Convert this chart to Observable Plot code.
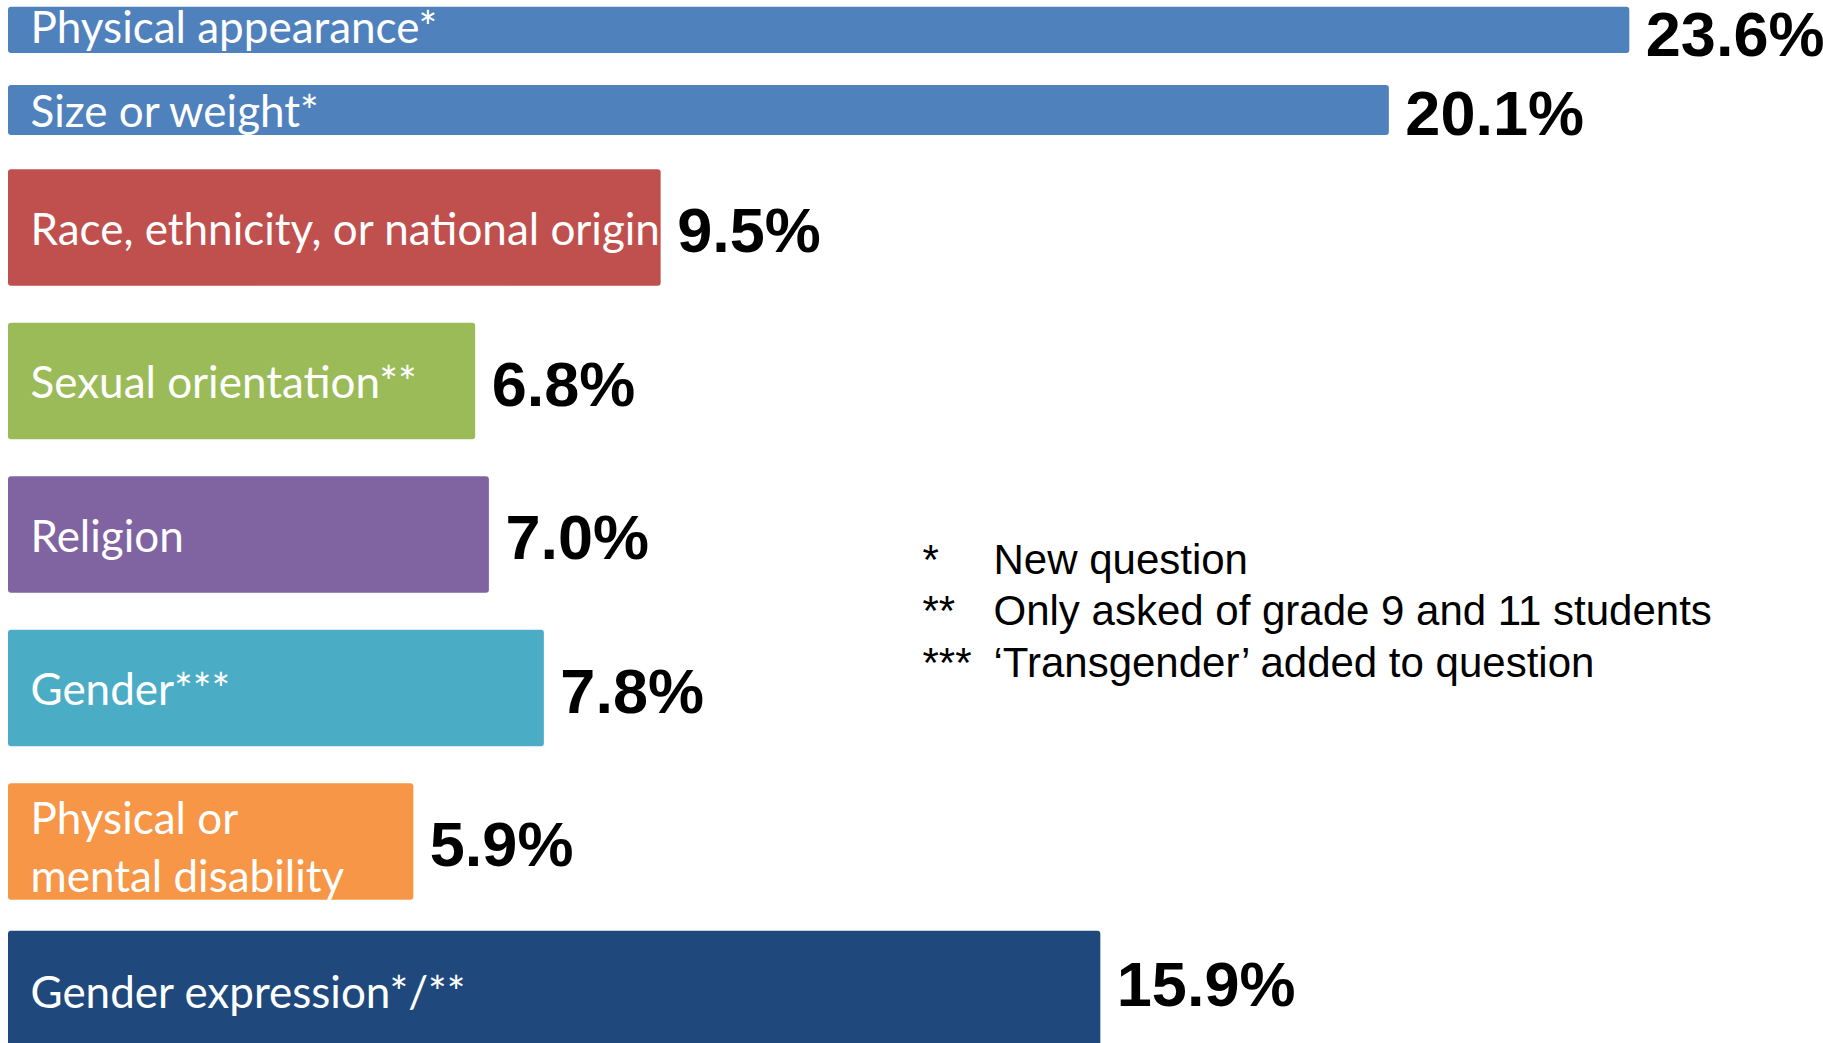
<!DOCTYPE html>
<html>
<head>
<meta charset="utf-8">
<script src="https://cdn.jsdelivr.net/npm/d3@7"></script>
<script src="https://cdn.jsdelivr.net/npm/@observablehq/plot@0.6"></script>
<style>
  html, body { margin: 0; padding: 0; background: #ffffff; overflow: hidden; }
  #chart svg { display: block; }
</style>
</head>
<body>
<div id="chart"></div>
<script>
// ---- data ----
const categories = [
  "Physical appearance*",
  "Size or weight*",
  "Race, ethnicity, or national origin",
  "Sexual orientation**",
  "Religion",
  "Gender***",
  "Physical or\nmental disability",
  "Gender expression*/**"
];
const values = [23.6, 20.1, 9.5, 6.8, 7.0, 7.8, 5.9, 15.9];
// the first two categories share one row of the slide
const rows = [
  "Appearance / weight",
  "Appearance / weight",
  "Race",
  "Sexual orientation",
  "Religion",
  "Gender",
  "Disability",
  "Gender expression"
];
const palette = ["#4F81BD", "#4F81BD", "#C0504D", "#9BBB59", "#8064A2", "#4BACC6", "#F79646", "#1F497D"];
const footMarks = ["*", "**", "***"];
const footNotes = ["New question", "Only asked of grade 9 and 11 students", "\u2018Transgender\u2019 added to question"];

// ---- table ----
const table = categories.map((c, i) => ({category: c, value: values[i], row: rows[i]}));
const rowDomain = Array.from(new Set(rows));

const labelFont = "Lato, 'Open Sans', sans-serif";
const valueFont = "'Liberation Sans', Arial, Helvetica, sans-serif";

function labelMark(data, dy) {
  return Plot.text(data, {
    x: () => 0, y: "row", text: "category", textAnchor: "start", lineAnchor: "middle",
    dx: 22, dy, fill: "white", fontSize: 44, fontFamily: labelFont, lineHeight: 1.32
  });
}

function barGroup(data, insetTop, insetBottom, labelDy, valueDy) {
  const single = data.filter(d => !d.category.includes("\n"));
  const multi = data.filter(d => d.category.includes("\n"));
  return [
    Plot.barX(data, {x: "value", y: "row", fill: "category", insetTop, insetBottom, rx: 3}),
    labelMark(single, labelDy),
    labelMark(multi, labelDy + 4.6),
    Plot.text(data, {
      x: "value", y: "row", text: d => d.value.toFixed(1) + "%", textAnchor: "start", lineAnchor: "middle",
      dx: 16, dy: valueDy, fill: "black", fontSize: 63, fontWeight: "bold", fontFamily: valueFont
    })
  ];
}

const chart = Plot.plot({
  width: 1823,
  height: 1043,
  marginLeft: 8,
  marginRight: 97,
  marginTop: 0,
  marginBottom: 0,
  style: {background: "white", overflow: "hidden"},
  x: {domain: [0, 25], range: [8, 1725.5], axis: null},
  y: {domain: rowDomain, range: [-2.7, 1071.8], paddingInner: 0.241, paddingOuter: 0.1205, round: false, axis: null},
  color: {domain: categories, range: palette},
  marks: [
    ...barGroup(table.filter((d, i) => i === 0), -9.1, 79.3, -50.3, -39),
    ...barGroup(table.filter((d, i) => i === 1), 69.2, -2.7, 33.6, 40.6),
    ...barGroup(table.filter((d, i) => i > 1 && i < 7), 0, 0, -2, 4),
    ...barGroup(table.filter((d, i) => i === 7), -6, 0, -6.6, -10),
    Plot.text([footMarks.join("\n")], {
      frameAnchor: "top-left", text: d => d, textAnchor: "start", lineAnchor: "top",
      dx: 914, dy: 537, fontSize: 42, lineHeight: 51.3 / 42, fontFamily: valueFont, fill: "black"
    }),
    Plot.text([footNotes.join("\n")], {
      frameAnchor: "top-left", text: d => d, textAnchor: "start", lineAnchor: "top",
      dx: 985, dy: 537, fontSize: 42, lineHeight: 51.3 / 42, fontFamily: valueFont, fill: "black"
    })
  ]
});

document.getElementById("chart").appendChild(chart);
</script>
</body>
</html>
